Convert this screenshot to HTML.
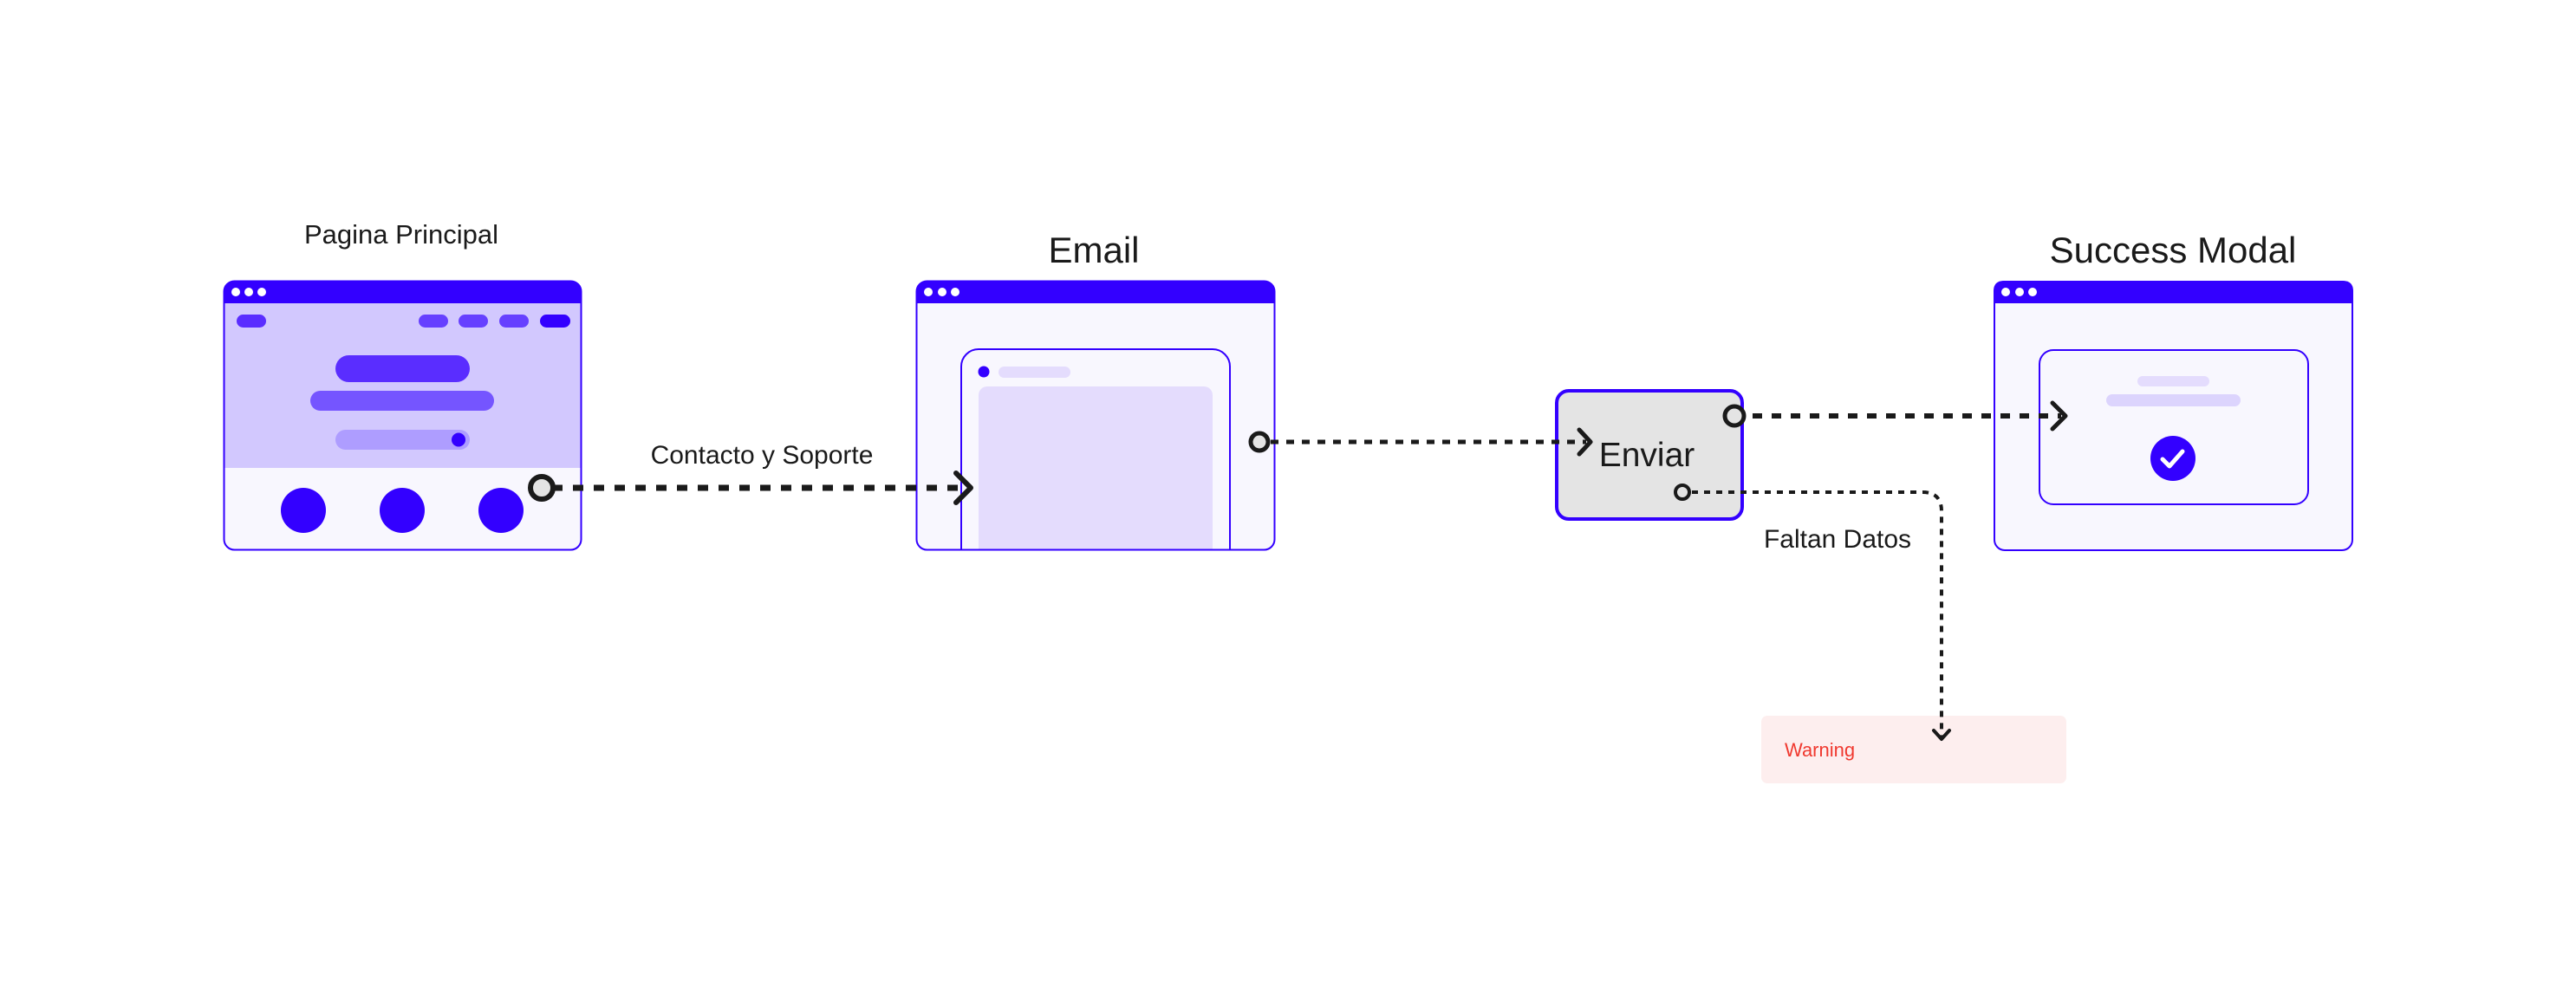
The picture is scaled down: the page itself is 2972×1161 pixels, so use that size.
<!DOCTYPE html>
<html><head><meta charset="utf-8"><style>
html,body{margin:0;padding:0;background:#fff;}
svg{display:block;}
text{font-family:"Liberation Sans",sans-serif;fill:#1a1a1a;}
</style></head><body>
<svg width="2972" height="1161" viewBox="0 0 2972 1161" xmlns="http://www.w3.org/2000/svg">
<defs>
<clipPath id="c1"><rect x="258" y="324" width="413" height="311" rx="12"/></clipPath>
<clipPath id="c2"><rect x="1057" y="324" width="414" height="311" rx="12"/></clipPath>
</defs>
<!-- Pagina Principal -->
<text x="463" y="281" font-size="31" text-anchor="middle">Pagina Principal</text>
<g clip-path="url(#c1)">
<rect x="258" y="324" width="413" height="311" fill="#f8f7fe"/>
<rect x="258" y="350" width="413" height="190" fill="#d2c8fe"/>
<rect x="258" y="324" width="413" height="26" fill="#3300ff"/>
</g>
<rect x="258.5" y="324.5" width="412" height="310" rx="12" fill="none" stroke="#3300ff" stroke-width="2"/>
<circle cx="272" cy="337" r="5" fill="#fff"/><circle cx="287" cy="337" r="5" fill="#fff"/><circle cx="302" cy="337" r="5" fill="#fff"/>
<rect x="273" y="363" width="34" height="15" rx="7.5" fill="#5a2dff"/>
<rect x="483" y="363" width="34" height="15" rx="7.5" fill="#6640ff"/>
<rect x="529" y="363" width="34" height="15" rx="7.5" fill="#6640ff"/>
<rect x="576" y="363" width="34" height="15" rx="7.5" fill="#6640ff"/>
<rect x="623" y="363" width="35" height="15" rx="7.5" fill="#3300ff"/>
<rect x="387" y="410" width="155" height="31" rx="15.5" fill="#5a2dff"/>
<rect x="358" y="451" width="212" height="23" rx="11.5" fill="#7555ff"/>
<rect x="387" y="496" width="155" height="23" rx="11.5" fill="#ae9dff"/>
<circle cx="529" cy="507.5" r="8" fill="#3300ff"/>
<circle cx="350" cy="589" r="26" fill="#3300ff"/>
<circle cx="464" cy="589" r="26" fill="#3300ff"/>
<circle cx="578" cy="589" r="26" fill="#3300ff"/>
<text x="879" y="535" font-size="30" text-anchor="middle">Contacto y Soporte</text>
<!-- Email -->
<text x="1262" y="303" font-size="42" text-anchor="middle">Email</text>
<g clip-path="url(#c2)">
<rect x="1057" y="324" width="414" height="311" fill="#f8f7fe"/>
<rect x="1057" y="324" width="414" height="26" fill="#3300ff"/>
<rect x="1109" y="403" width="310" height="260" rx="20" fill="#f8f7fe" stroke="#3300ff" stroke-width="2"/>
<circle cx="1135" cy="429" r="6.5" fill="#3300ff"/>
<rect x="1152" y="423" width="83" height="13" rx="6.5" fill="#e4dcfd"/>
<rect x="1129" y="446" width="270" height="220" rx="10" fill="#e4dcfd"/>
</g>
<rect x="1057.5" y="324.5" width="413" height="310" rx="12" fill="none" stroke="#3300ff" stroke-width="2"/>
<circle cx="1071" cy="337" r="5" fill="#fff"/><circle cx="1087" cy="337" r="5" fill="#fff"/><circle cx="1102" cy="337" r="5" fill="#fff"/>
<!-- Enviar -->
<rect x="1796" y="451" width="214" height="148" rx="14" fill="#e4e4e4" stroke="#3300ff" stroke-width="4"/>
<text x="1900" y="538" font-size="39" text-anchor="middle">Enviar</text>
<text x="2120" y="632" font-size="30" text-anchor="middle">Faltan Datos</text>
<!-- Warning -->
<rect x="2032" y="826" width="352" height="78" rx="7" fill="#fdeeee"/>
<text x="2059" y="873" font-size="22" style="fill:#f0392f">Warning</text>
<!-- Success -->
<text x="2507" y="303" font-size="42" text-anchor="middle">Success Modal</text>
<rect x="2301" y="325" width="413" height="310" rx="12" fill="#f8f7fe" stroke="#3300ff" stroke-width="2"/>
<path d="M2300,350 V336 Q2300,324 2312,324 H2703 Q2715,324 2715,336 V350 Z" fill="#3300ff"/>
<circle cx="2314" cy="337" r="5" fill="#fff"/><circle cx="2330" cy="337" r="5" fill="#fff"/><circle cx="2345" cy="337" r="5" fill="#fff"/>
<rect x="2353" y="404" width="310" height="178" rx="16" fill="#f8f7fe" stroke="#3300ff" stroke-width="2"/>
<rect x="2466" y="434" width="83" height="12" rx="6" fill="#e4dcfd"/>
<rect x="2430" y="455" width="155" height="14" rx="7" fill="#dcd4fd"/>
<circle cx="2507" cy="529" r="26" fill="#3300ff"/>
<polyline points="2495,530 2503,538 2518,521" fill="none" stroke="#fff" stroke-width="5" stroke-linecap="round" stroke-linejoin="round"/>

<!-- connectors on top -->
<line x1="637" y1="563" x2="1116" y2="563" stroke="#1a1a1a" stroke-width="7" stroke-dasharray="12 12"/>
<polyline points="1103,546 1120,563 1103,580" fill="none" stroke="#1a1a1a" stroke-width="6" stroke-linecap="round" stroke-linejoin="round"/>
<circle cx="625" cy="563" r="13" fill="#e4e4e4" stroke="#1a1a1a" stroke-width="6"/>

<line x1="1466" y1="510" x2="1830" y2="510" stroke="#1a1a1a" stroke-width="5" stroke-dasharray="9 9"/>
<polyline points="1822,496 1835,510 1822,524" fill="none" stroke="#1a1a1a" stroke-width="5" stroke-linecap="round" stroke-linejoin="round"/>
<circle cx="1453" cy="510" r="10" fill="#e4e4e4" stroke="#1a1a1a" stroke-width="5"/>

<line x1="2022" y1="480" x2="2378" y2="480" stroke="#1a1a1a" stroke-width="6" stroke-dasharray="11 11"/>
<polyline points="2368,465 2383,480 2368,495" fill="none" stroke="#1a1a1a" stroke-width="5" stroke-linecap="round" stroke-linejoin="round"/>
<circle cx="2001" cy="480" r="11" fill="#e4e4e4" stroke="#1a1a1a" stroke-width="5"/>

<path d="M1952,568 H2218 Q2240,568 2240,590 V850" fill="none" stroke="#1a1a1a" stroke-width="4" stroke-dasharray="7 7"/>
<polyline points="2231,843 2240,853 2249,843" fill="none" stroke="#1a1a1a" stroke-width="4" stroke-linecap="round" stroke-linejoin="round"/>
<circle cx="1941" cy="568" r="8" fill="#e4e4e4" stroke="#1a1a1a" stroke-width="4"/>
</svg>
</body></html>
